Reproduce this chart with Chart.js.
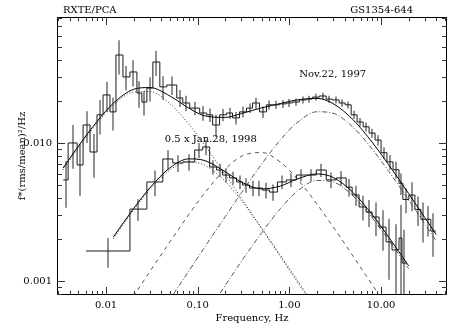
<!DOCTYPE html>
<html>
<head>
<meta charset="utf-8">
<script src="https://cdn.jsdelivr.net/npm/chart.js@4/dist/chart.umd.min.js"></script>
<style>
  body { margin: 0; background: #fff; }
  canvas { display: block; }
</style>
</head>
<body>
<canvas id="app-canvas" width="463" height="331"></canvas>
<script>
// tick labels
var xTickValues = [0.01, 0.1, 1, 10];
var xTickLabels = ["0.01", "0.10", "1.00", "10.00"];
var yTickValues = [0.001, 0.01];
var yTickLabels = ["0.001", "0.010"];

// Nov.22, 1997 - bin edges (Hz), f*P per bin, 1 sigma
var novEdges = [0.00341, 0.00386, 0.00484, 0.00562, 0.0067, 0.00798, 0.00928, 0.01105, 0.01284, 0.0153,
  0.01824, 0.02173, 0.02463, 0.02791, 0.03243, 0.03864, 0.04603, 0.05911, 0.06871, 0.08185,
  0.1051, 0.1253, 0.1456, 0.1734, 0.2066, 0.2399, 0.2861, 0.3408, 0.3963, 0.472,
  0.5623, 0.6534, 0.7785, 0.9272, 1.078, 1.284, 1.531, 1.778, 2.118, 2.523,
  2.931, 3.492, 4.06, 4.72, 5.48, 6.37, 7.41, 8.61, 10.0, 11.6,
  13.5, 15.7, 17.3, 20.1, 23.4, 27.2, 30.8, 34.9, 39.6];
var novPower = [0.0054, 0.0100, 0.00693, 0.0135, 0.0086, 0.0160, 0.0223, 0.0168, 0.0434, 0.0301,
  0.0327, 0.0230, 0.0198, 0.0250, 0.0386, 0.0255, 0.0263, 0.0212, 0.0195, 0.0179,
  0.0165, 0.0160, 0.0135, 0.0160, 0.0165, 0.0152, 0.0168, 0.0179, 0.0195, 0.0168,
  0.0189, 0.0189, 0.0192, 0.0195, 0.0198, 0.0205, 0.0208, 0.0215, 0.0219, 0.0208,
  0.0205, 0.0195, 0.0189, 0.0160, 0.0142, 0.0131, 0.0118, 0.0105, 0.0085, 0.0073,
  0.0064, 0.0051, 0.0039, 0.0042, 0.0033, 0.0028, 0.0028, 0.0023];
var novError = [0.0020, 0.0035, 0.0028, 0.0035, 0.0030, 0.0045, 0.0055, 0.0045, 0.0120, 0.0060,
  0.0070, 0.0050, 0.0040, 0.0050, 0.0080, 0.0050, 0.0040, 0.0030, 0.0025, 0.0020,
  0.0020, 0.0018, 0.0025, 0.0016, 0.0015, 0.0016, 0.0015, 0.0014, 0.0018, 0.0016,
  0.0014, 0.0013, 0.0013, 0.0013, 0.0012, 0.0012, 0.0012, 0.0012, 0.0012, 0.0012,
  0.0012, 0.0012, 0.0011, 0.0011, 0.0010, 0.0010, 0.0009, 0.0009, 0.0008, 0.0009,
  0.0009, 0.0009, 0.0008, 0.0010, 0.0008, 0.0009, 0.0007, 0.0008];

// 0.5 x Jan.28, 1998
var janEdges = [0.00606, 0.01824, 0.02791, 0.04165, 0.05349, 0.06871, 0.09278, 0.1133, 0.1350, 0.1609,
  0.1869, 0.2227, 0.2654, 0.3084, 0.3675, 0.4379, 0.5088, 0.6063, 0.7406, 0.9278,
  1.192, 1.530, 1.966, 2.525, 3.243, 4.165, 4.839, 5.767, 6.871, 7.983,
  9.513, 11.33, 13.17, 15.70, 16.92, 19.17];
var janPower = [0.00165, 0.00332, 0.00522, 0.00766, 0.00716, 0.00729, 0.0089, 0.00936, 0.0067, 0.00637,
  0.00586, 0.00558, 0.00522, 0.00496, 0.00472, 0.00472, 0.00456, 0.00441, 0.00522, 0.0054,
  0.00586, 0.00586, 0.00637, 0.0054, 0.00558, 0.00479, 0.0042, 0.00344, 0.00316, 0.00291,
  0.00246, 0.00192, 0.00168, 0.00205, 0.00135];
var janError = [0.0004, 0.0006, 0.0011, 0.0012, 0.0010, 0.0010, 0.0011, 0.0012, 0.0008, 0.0007,
  0.0007, 0.0006, 0.0006, 0.0006, 0.0006, 0.0006, 0.0006, 0.0006, 0.0006, 0.0006,
  0.0006, 0.0006, 0.0007, 0.0007, 0.0007, 0.0007, 0.0007, 0.0007, 0.0007, 0.0008,
  0.0008, 0.0009, 0.0009, 0.0015, 0.0010];

// model curves
var novModelFreq = [0.0034, 0.005, 0.008, 0.012, 0.02, 0.03, 0.05, 0.08, 0.12, 0.2, 0.3,
  0.5, 0.8, 1.2, 2, 3, 5, 8, 12, 20, 30, 40];
var novTotal = [0.00658, 0.0095, 0.01436, 0.01938, 0.02449, 0.02522, 0.02187, 0.01788, 0.01572, 0.01532, 0.01634,
  0.01798, 0.01931, 0.0205, 0.02105, 0.01929, 0.01465, 0.01012, 0.00702, 0.0043, 0.00288, 0.00217];
var novLow = [0.0064, 0.00923, 0.01393, 0.01873, 0.02341, 0.02361, 0.0192, 0.01367, 0.00958, 0.00591, 0.00397,
  0.00239, 0.0015, 0.001, 0.0006, 0.0004, 0.00024, 0.00015, 0.0001, 0.00006, 0.00004, 0.00003];
var novMid = [0.00013, 0.0002, 0.00031, 0.00047, 0.00078, 0.00117, 0.00193, 0.00303, 0.00437, 0.00648, 0.00801,
  0.00853, 0.00726, 0.00556, 0.00361, 0.00247, 0.0015, 0.00094, 0.00063, 0.00038, 0.00025, 0.00019];
var novHigh = [0.00005, 0.00007, 0.00012, 0.00018, 0.0003, 0.00044, 0.00074, 0.00118, 0.00177, 0.00293, 0.00436,
  0.00706, 0.01055, 0.01394, 0.01684, 0.01642, 0.01291, 0.00903, 0.00629, 0.00386, 0.00259, 0.00195];

var janModelFreq = [0.012, 0.02, 0.03, 0.05, 0.08, 0.12, 0.2, 0.3, 0.5, 0.8, 1.2, 2, 3, 5, 8, 12, 20];
var janTotal = [0.00208, 0.00335, 0.00472, 0.00662, 0.00767, 0.00745, 0.00619, 0.00522, 0.00465, 0.00488, 0.00546,
  0.00597, 0.00563, 0.00435, 0.00303, 0.0021, 0.00129];
var janLow = [0.00202, 0.00326, 0.00458, 0.00638, 0.00729, 0.00689, 0.00526, 0.00383, 0.00241, 0.00153, 0.00103,
  0.00062, 0.00041, 0.00025, 0.00016, 0.0001, 0.00006];
var janHigh = [0.00006, 0.00009, 0.00014, 0.00024, 0.00038, 0.00056, 0.00093, 0.00139, 0.00224, 0.00335, 0.00443,
  0.00535, 0.00522, 0.0041, 0.00287, 0.002, 0.00123];

var FONT = '"DejaVu Serif", serif';

function histPoints(edges, power) {
  var pts = [];
  for (var i = 0; i < power.length; i++) {
    pts.push({x: edges[i], y: power[i]});
  }
  pts.push({x: edges[edges.length - 1], y: power[power.length - 1]});
  return pts;
}

function histogram(edges, power, errors) {
  return {
    data: histPoints(edges, power),
    stepped: true,
    borderColor: "#1a1a1a",
    borderWidth: 1,
    pointRadius: 0,
    fill: false,
    edges: edges,
    power: power,
    errors: errors
  };
}

function curve(freq, vals, dash, color) {
  return {
    data: freq.map(function(f, i) { return {x: f, y: vals[i]}; }),
    borderColor: color,
    borderWidth: 1,
    borderDash: dash,
    pointRadius: 0,
    fill: false,
    cubicInterpolationMode: "monotone"
  };
}

// vertical error bars, drawn under the histograms
var errorBars = {
  id: "errorBars",
  beforeDatasetsDraw: function(chart) {
    var ctx = chart.ctx;
    var xs = chart.scales.x;
    var ys = chart.scales.y;
    var a = chart.chartArea;
    ctx.save();
    ctx.beginPath();
    ctx.rect(a.left, a.top, a.right - a.left, a.bottom - a.top);
    ctx.clip();
    ctx.strokeStyle = "#6e6e6e";
    ctx.lineWidth = 1.5;
    chart.data.datasets.forEach(function(ds) {
      if (!ds.errors) return;
      for (var i = 0; i < ds.power.length; i++) {
        var fc = Math.sqrt(ds.edges[i] * ds.edges[i + 1]);
        var px = Math.round(xs.getPixelForValue(fc));
        var lo = ds.power[i] - ds.errors[i];
        var yTop = ys.getPixelForValue(ds.power[i] + ds.errors[i]);
        var yBot = lo > 0 ? ys.getPixelForValue(lo) : a.bottom;
        ctx.beginPath();
        ctx.moveTo(px, yTop);
        ctx.lineTo(px, yBot);
        ctx.stroke();
      }
    });
    ctx.restore();
  }
};

// box with inward ticks on all four sides, plus the text labels
var frame = {
  id: "frame",
  afterDraw: function(chart) {
    var ctx = chart.ctx;
    var a = chart.chartArea;
    var xs = chart.scales.x;
    var ys = chart.scales.y;
    ctx.save();
    ctx.strokeStyle = "#000";
    ctx.lineWidth = 1;
    ctx.strokeRect(a.left + 0.5, a.top + 0.5, a.right - a.left - 1, a.bottom - a.top - 1);

    ctx.strokeStyle = "#333";
    ctx.beginPath();
    logTicks(xs).forEach(function(t) {
      var p = Math.round(xs.getPixelForValue(t.v)) + 0.5;
      var len = t.major ? 8 : 4;
      ctx.moveTo(p, a.bottom); ctx.lineTo(p, a.bottom - len);
      ctx.moveTo(p, a.top); ctx.lineTo(p, a.top + len);
    });
    logTicks(ys).forEach(function(t) {
      var p = Math.round(ys.getPixelForValue(t.v)) + 0.5;
      var len = t.major ? 8 : 5;
      ctx.moveTo(a.left, p); ctx.lineTo(a.left + len, p);
      ctx.moveTo(a.right, p); ctx.lineTo(a.right - len, p);
    });
    ctx.stroke();

    ctx.fillStyle = "#000";
    ctx.font = "10px " + FONT;
    ctx.textBaseline = "middle";
    ctx.textAlign = "left";
    ctx.fillText("RXTE/PCA", 63, 10);
    ctx.fillText("Nov.22, 1997", xs.getPixelForValue(1.28), ys.getPixelForValue(0.0316));
    ctx.fillText("0.5 x Jan.28, 1998", xs.getPixelForValue(0.0438), ys.getPixelForValue(0.0107));
    ctx.textAlign = "right";
    ctx.fillText("GS1354-644", 413, 10);
    ctx.restore();
  }
};

function logTicks(scale) {
  var out = [];
  var e0 = Math.floor(Math.log10(scale.min));
  var e1 = Math.ceil(Math.log10(scale.max));
  for (var e = e0; e <= e1; e++) {
    for (var k = 1; k < 10; k++) {
      var v = k * Math.pow(10, e);
      if (v >= scale.min && v <= scale.max) out.push({v: v, major: k === 1});
    }
  }
  return out;
}

Chart.defaults.font.family = FONT;
Chart.defaults.font.size = 10;
Chart.defaults.color = "#000";

var ctx = document.getElementById("app-canvas").getContext("2d");
var chart = new Chart(ctx, {
  type: "line",
  data: {
    datasets: [
      histogram(novEdges, novPower, novError),
      histogram(janEdges, janPower, janError),
      curve(novModelFreq, novTotal, [], "#000"),
      curve(novModelFreq, novLow, [1, 2], "#333"),
      curve(novModelFreq, novMid, [4, 4], "#555"),
      curve(novModelFreq, novHigh, [5, 2, 1, 2], "#555"),
      curve(janModelFreq, janTotal, [], "#000"),
      curve(janModelFreq, janLow, [1, 2], "#333"),
      curve(janModelFreq, janHigh, [5, 2, 1, 2], "#555")
    ]
  },
  options: {
    responsive: false,
    animation: false,
    devicePixelRatio: 1,
    events: [],
    layout: { padding: { top: 17, right: 16, left: 0, bottom: 0 } },
    plugins: { legend: { display: false }, tooltip: { enabled: false } },
    scales: {
      x: {
        type: "logarithmic",
        position: "bottom",
        min: 0.00292,
        max: 52.4,
        grid: { display: false, drawTicks: false },
        border: { display: false },
        afterBuildTicks: function(scale) {
          scale.ticks = xTickValues.map(function(v) { return {value: v}; });
        },
        afterFit: function(scale) { scale.height = 36; },
        ticks: {
          autoSkip: false,
          maxRotation: 0,
          padding: 4,
          callback: function(value) {
            var i = xTickValues.indexOf(value);
            return i >= 0 ? xTickLabels[i] : "";
          }
        },
        title: { display: true, text: "Frequency, Hz", padding: { top: 0, bottom: 7 } }
      },
      y: {
        type: "logarithmic",
        min: 0.000792,
        max: 0.0818,
        grid: { display: false, drawTicks: false },
        border: { display: false },
        afterBuildTicks: function(scale) {
          scale.ticks = yTickValues.map(function(v) { return {value: v}; });
        },
        afterFit: function(scale) { scale.width = 57; },
        ticks: {
          autoSkip: false,
          padding: 5,
          callback: function(value) {
            var i = yTickValues.indexOf(value);
            return i >= 0 ? yTickLabels[i] : "";
          }
        },
        title: { display: true, text: "f*(rms/mean)\u00b2/Hz", padding: { top: 16, bottom: 0 } }
      }
    }
  },
  plugins: [errorBars, frame]
});
</script>
</body>
</html>
